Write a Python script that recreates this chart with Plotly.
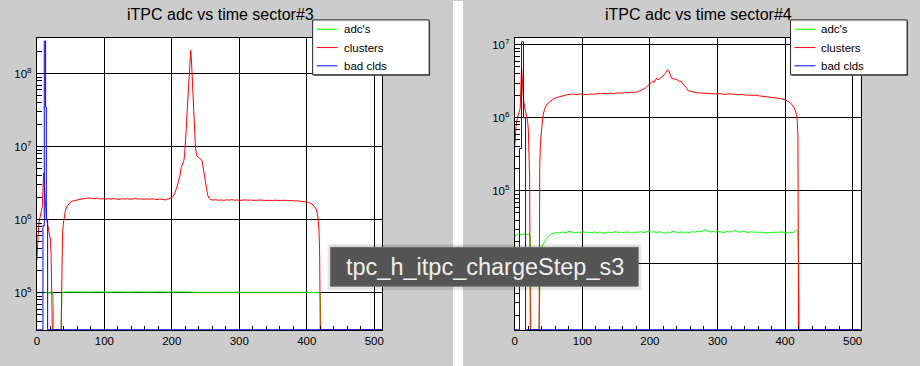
import plotly.graph_objects as go

# ---------------- data ----------------
x_ticks = [0, 100, 200, 300, 400, 500]
x_tick_labels = ["0", "100", "200", "300", "400", "500"]

s3_title = "iTPC adc vs time sector#3"
s4_title = "iTPC adc vs time sector#4"
series_names = ["adc's", "clusters", "bad clds"]

# sector 3
s3_y_ticks = [1e5, 1e6, 1e7, 1e8]
s3_y_tick_labels = ["10<sup>5</sup>", "10<sup>6</sup>", "10<sup>7</sup>", "10<sup>8</sup>"]

s3_clusters_x = [0, 1, 2, 3, 4, 6, 8, 9, 10, 11, 12, 13, 14, 16, 18, 20, 21, 22, 23, 36,
                 37, 38, 39, 40, 42, 44, 47, 50, 54, 58, 62, 66, 70, 74, 78, 82, 86, 90, 94, 98,
                 102, 106, 110, 114, 118, 122, 126, 130, 134, 138, 142, 146, 150, 154, 158, 162,
                 166, 170, 174, 178, 182, 186, 190, 194, 198, 201, 204, 206, 208, 210, 212, 214,
                 216, 218, 219, 220, 221, 222, 223, 224, 225, 226, 227, 228, 229, 230, 231, 232,
                 233, 234, 235, 236, 237, 239, 241, 243, 245, 247, 249, 251, 253, 255, 257, 261,
                 265, 269, 273, 277, 281, 285, 289, 293, 297, 301, 305, 309, 313, 317, 321, 325,
                 329, 333, 337, 341, 345, 349, 353, 357, 361, 365, 369, 373, 377, 381, 385, 389,
                 393, 397, 401, 404, 407, 410, 412, 414, 416, 417, 418, 419, 420, 512]
s3_clusters_y = [2.8e5, 5.0e5, 7.5e5, 9.0e5, 1.0e6, 1.2e6, 1.5e6, 2.5e6, 4.4e6, 3.2e6, 1.9e6,
                 1.5e6, 1.1e6, 8.5e5, 7.0e5, 5.5e5, 3.5e5, 1.5e5, 0, 0,
                 2.0e5, 6.0e5, 8.5e5, 1.05e6, 1.3e6, 1.5e6, 1.65e6, 1.75e6, 1.82e6, 1.86e6,
                 1.9e6, 1.93e6, 1.95e6, 1.97e6, 1.99e6, 1.96e6, 1.94e6, 1.98e6, 1.92e6, 1.95e6,
                 1.91e6, 1.94e6, 1.92e6, 1.95e6, 1.93e6, 1.90e6, 1.94e6, 1.92e6, 1.95e6, 1.91e6,
                 1.93e6, 1.96e6, 1.92e6, 1.94e6, 1.90e6, 1.93e6, 1.91e6, 1.94e6, 1.92e6, 1.89e6,
                 1.93e6, 1.91e6, 1.87e6, 1.92e6, 1.97e6, 2.05e6, 2.25e6, 2.5e6, 2.9e6, 3.4e6,
                 4.0e6, 5.2e6, 5.8e6, 6.5e6, 8.0e6, 1.0e7, 1.5e7, 2.3e7, 3.3e7, 4.7e7, 7.0e7,
                 1.0e8, 1.7e8, 2.1e8, 1.6e8, 1.0e8, 6.0e7, 3.5e7, 2.0e7, 1.3e7, 1.0e7, 8.5e6,
                 7.6e6, 7.2e6, 7.0e6, 6.8e6, 6.3e6, 4.8e6, 3.6e6, 2.7e6, 2.2e6, 1.97e6, 1.9e6,
                 1.86e6, 1.88e6, 1.85e6, 1.87e6, 1.84e6, 1.88e6, 1.86e6, 1.89e6, 1.85e6, 1.87e6,
                 1.84e6, 1.86e6, 1.88e6, 1.85e6, 1.87e6, 1.84e6, 1.86e6, 1.85e6, 1.87e6, 1.84e6,
                 1.86e6, 1.85e6, 1.83e6, 1.86e6, 1.84e6, 1.85e6, 1.83e6, 1.85e6, 1.82e6, 1.84e6,
                 1.81e6, 1.83e6, 1.80e6, 1.79e6, 1.77e6, 1.74e6, 1.70e6, 1.66e6, 1.58e6, 1.5e6,
                 1.4e6, 1.2e6, 1.0e6, 7.5e5, 4.0e5, 0, 0]

s3_adc_x = [0, 5, 10, 15, 20, 24, 25, 36, 37, 38, 48, 58, 68, 78, 88, 98, 108, 118, 128, 138,
            148, 158, 168, 178, 188, 198, 208, 218, 228, 238, 248, 258, 268, 278, 288, 298, 308,
            318, 328, 338, 348, 358, 368, 378, 388, 398, 408, 415, 420, 421, 512]
s3_adc_y = [1.0e5, 1.01e5, 1.0e5, 1.01e5, 1.0e5, 1.0e5, 0, 0, 9.5e4, 1.02e5, 1.03e5, 1.02e5,
            1.03e5, 1.02e5, 1.03e5, 1.02e5, 1.02e5, 1.03e5, 1.02e5, 1.02e5, 1.03e5, 1.02e5,
            1.02e5, 1.03e5, 1.02e5, 1.02e5, 1.03e5, 1.02e5, 1.03e5, 1.02e5, 1.02e5, 1.03e5,
            1.02e5, 1.02e5, 1.03e5, 1.02e5, 1.02e5, 1.03e5, 1.02e5, 1.02e5, 1.03e5, 1.02e5,
            1.02e5, 1.03e5, 1.02e5, 1.02e5, 1.02e5, 1.02e5, 1.0e5, 0, 0]

s3_bad_x = [0, 9, 11, 13, 14, 16, 512]
s3_bad_y = [0, 8.3e5, 2.8e8, 3.5e7, 1.0e6, 0, 0]

# sector 4
s4_y_ticks = [1e4, 1e5, 1e6, 1e7]
s4_y_tick_labels = ["10<sup>4</sup>", "10<sup>5</sup>", "10<sup>6</sup>", "10<sup>7</sup>"]

s4_clusters_x = [0, 1, 2, 4, 6, 8, 9, 10, 11, 12, 13, 14, 16, 18, 19, 20, 21, 22, 23, 36, 37, 38,
                 40, 42, 44, 46, 49, 53, 57, 62, 67, 72, 77, 82, 87, 92, 97, 102, 107, 112, 117,
                 122, 127, 132, 137, 142, 147, 152, 157, 162, 167, 172, 177, 182, 186, 190, 194,
                 198, 201, 204, 206, 208, 210, 212, 214, 216, 219, 222, 224, 226, 228, 230, 232,
                 235, 238, 241, 244, 246, 248, 251, 253, 255, 257, 260, 264, 268, 272, 277, 282,
                 287, 292, 297, 302, 307, 312, 317, 322, 327, 332, 337, 342, 347, 352, 357, 362,
                 367, 372, 377, 382, 387, 392, 397, 401, 405, 408, 411, 413, 415, 417, 418, 419,
                 420, 512]
s4_clusters_y = [4.0e5, 6.0e5, 8.0e5, 1.0e6, 1.15e6, 1.35e6, 2.5e6, 5.0e6, 3.5e6, 2.2e6, 1.8e6,
                 1.5e6, 1.2e6, 1.0e6, 9.0e5, 7.0e5, 4.0e5, 1.5e5, 0, 0, 2.3e5, 4.5e5, 7.4e5,
                 1.1e6, 1.3e6, 1.45e6, 1.58e6, 1.72e6, 1.82e6, 1.9e6, 1.97e6, 2.02e6, 2.07e6,
                 2.1e6, 2.12e6, 2.08e6, 2.13e6, 2.1e6, 2.08e6, 2.12e6, 2.1e6, 2.15e6, 2.13e6,
                 2.17e6, 2.14e6, 2.18e6, 2.15e6, 2.2e6, 2.18e6, 2.22e6, 2.2e6, 2.25e6, 2.23e6,
                 2.28e6, 2.35e6, 2.45e6, 2.6e6, 2.8e6, 3.0e6, 3.2e6, 3.05e6, 3.3e6, 3.5e6, 3.3e6,
                 3.45e6, 3.55e6, 3.7e6, 3.95e6, 4.2e6, 4.5e6, 4.4e6, 3.9e6, 3.5e6, 3.45e6,
                 3.4e6, 3.3e6, 3.15e6, 3.2e6, 3.0e6, 2.8e6, 2.6e6, 2.5e6, 2.35e6, 2.3e6, 2.26e6,
                 2.22e6, 2.2e6, 2.18e6, 2.2e6, 2.15e6, 2.17e6, 2.13e6, 2.15e6, 2.12e6, 2.1e6,
                 2.13e6, 2.09e6, 2.1e6, 2.07e6, 2.09e6, 2.05e6, 2.06e6, 2.03e6, 2.04e6, 2.0e6,
                 1.98e6, 1.93e6, 1.92e6, 1.9e6, 1.88e6, 1.85e6, 1.8e6, 1.75e6, 1.68e6, 1.6e6,
                 1.5e6, 1.4e6, 1.28e6, 1.1e6, 9.0e5, 6.0e5, 0, 0]

s4_adc_x = [0, 2, 6, 10, 14, 18, 22, 23, 24, 36, 37, 38, 40, 42, 44, 46, 48, 51, 54, 58, 62, 66,
            70, 74, 78, 82, 86, 90, 94, 98, 102, 106, 110, 114, 118, 122, 126, 130, 134, 138,
            142, 146, 150, 154, 158, 162, 166, 170, 174, 178, 182, 186, 190, 194, 198, 202, 206,
            210, 214, 218, 222, 226, 230, 234, 238, 242, 246, 250, 254, 258, 262, 266, 270, 274,
            278, 282, 286, 290, 294, 298, 302, 306, 310, 314, 318, 322, 326, 330, 334, 338, 342,
            346, 350, 354, 358, 362, 366, 370, 374, 378, 382, 386, 390, 394, 398, 402, 406, 410,
            414, 417, 419, 420, 421, 512]
s4_adc_y = [2.3e4, 2.5e4, 2.55e4, 2.5e4, 2.6e4, 2.55e4, 2.5e4, 2.4e4, 0, 0, 1.2e4, 1.6e4, 1.7e4,
            1.9e4, 2.0e4, 2.15e4, 2.3e4, 2.45e4, 2.55e4, 2.62e4, 2.7e4, 2.65e4, 2.75e4, 2.68e4,
            2.72e4, 2.8e4, 2.7e4, 2.66e4, 2.74e4, 2.7e4, 2.78e4, 2.65e4, 2.72e4, 2.68e4, 2.76e4,
            2.66e4, 2.74e4, 2.7e4, 2.62e4, 2.75e4, 2.68e4, 2.72e4, 2.78e4, 2.67e4, 2.73e4,
            2.69e4, 2.76e4, 2.7e4, 2.64e4, 2.73e4, 2.71e4, 2.78e4, 2.69e4, 2.74e4, 2.8e4,
            2.72e4, 2.76e4, 2.68e4, 2.78e4, 2.7e4, 2.62e4, 2.74e4, 2.7e4, 2.8e4, 2.72e4,
            2.66e4, 2.76e4, 2.7e4, 2.74e4, 2.68e4, 2.78e4, 2.72e4, 2.8e4, 2.75e4, 2.82e4,
            2.95e4, 2.8e4, 2.74e4, 2.8e4, 2.72e4, 2.78e4, 2.75e4, 2.7e4, 2.8e4, 2.74e4, 2.78e4,
            2.9e4, 2.76e4, 2.72e4, 2.8e4, 2.74e4, 2.7e4, 2.77e4, 2.72e4, 2.75e4, 2.68e4,
            2.74e4, 2.7e4, 2.64e4, 2.72e4, 2.68e4, 2.74e4, 2.7e4, 2.76e4, 2.72e4, 2.66e4,
            2.74e4, 2.68e4, 2.75e4, 2.95e4, 2.8e4, 1.2e4, 0, 0]

s4_bad_x = [0, 7, 10, 13, 16, 512]
s4_bad_y = [0, 3.8e5, 1.1e7, 1.0e6, 0, 0]

tooltip_text = "tpc_h_itpc_chargeStep_s3"

# ---------------- layout helpers ----------------
W, H = 920, 366
FONT = "Liberation Sans, Arial, Helvetica, sans-serif"
C_ADC, C_CLU, C_BAD = "#00ff00", "#ff0000", "#0000ff"


def px(x):
    return x / W


def py(y):
    return 1 - y / H


S3_RANGE = [4.49, 8.49]
S4_RANGE = [3.095, 7.095]


def floor(vals, rng):
    f = 10 ** (rng[0] + 0.004)
    return [v if v > 0 else f for v in vals]


fig = go.Figure()

panels = [
    ("x", "y", S3_RANGE, s3_adc_x, s3_adc_y, s3_clusters_x, s3_clusters_y, s3_bad_x, s3_bad_y),
    ("x2", "y2", S4_RANGE, s4_adc_x, s4_adc_y, s4_clusters_x, s4_clusters_y, s4_bad_x, s4_bad_y),
]
for xa, ya, rng, ax, ay, cx, cy, bx, by in panels:
    fig.add_trace(go.Scatter(x=ax, y=floor(ay, rng), mode="lines", name=series_names[0],
                             line=dict(color=C_ADC, width=1), xaxis=xa, yaxis=ya,
                             showlegend=False, hoverinfo="skip"))
    fig.add_trace(go.Scatter(x=cx, y=floor(cy, rng), mode="lines", name=series_names[1],
                             line=dict(color=C_CLU, width=1), xaxis=xa, yaxis=ya,
                             showlegend=False, hoverinfo="skip"))
    fig.add_trace(go.Scatter(x=bx, y=floor(by, rng), mode="lines", name=series_names[2],
                             line=dict(color=C_BAD, width=1, shape="hv"), xaxis=xa, yaxis=ya,
                             showlegend=False, hoverinfo="skip"))


def minor_log(rng):
    vals = []
    for d in range(int(rng[0]) - 1, int(rng[1]) + 2):
        for k in range(2, 10):
            vals.append(k * 10 ** d)
    return vals


tickfont = dict(family=FONT, size=11.5, color="black")


def xaxis_cfg(dom):
    return dict(domain=dom, range=[0, 512], tickvals=x_ticks, ticktext=x_tick_labels,
                showgrid=True, gridcolor="black", gridwidth=1, zeroline=False,
                showline=True, mirror=True, linecolor="black", linewidth=1,
                ticks="inside", ticklen=8, tickcolor="black", tickfont=tickfont,
                minor=dict(dtick=20, tick0=0, ticks="inside", ticklen=4, tickcolor="black",
                           showgrid=False),
                fixedrange=True)


def yaxis_cfg(dom, rng, tv, tt, anchor):
    return dict(domain=dom, type="log", range=rng, tickvals=tv, ticktext=tt,
                showgrid=True, gridcolor="black", gridwidth=1, zeroline=False,
                showline=True, mirror=True, linecolor="black", linewidth=1,
                ticks="inside", ticklen=8, tickcolor="black", tickfont=tickfont,
                ticklabelstandoff=2,
                minor=dict(tickvals=minor_log(rng), ticks="inside", ticklen=5,
                           tickcolor="black", showgrid=False),
                anchor=anchor, fixedrange=True)


ydom = [py(330), py(37)]
fig.update_layout(
    width=W, height=H, margin=dict(l=0, r=0, t=0, b=0),
    paper_bgcolor="#cccccc", plot_bgcolor="white",
    font=dict(family=FONT, color="black"),
    xaxis=xaxis_cfg([px(34), px(381)]) | dict(anchor="y"),
    yaxis=yaxis_cfg(ydom, S3_RANGE, s3_y_ticks, s3_y_tick_labels, "x"),
    xaxis2=xaxis_cfg([px(514), px(861.5)]) | dict(anchor="y2"),
    yaxis2=yaxis_cfg(ydom, S4_RANGE, s4_y_ticks, s4_y_tick_labels, "x2"),
    showlegend=False,
)

shapes = []
annotations = []
# white gap between the two canvases
shapes.append(dict(type="rect", xref="paper", yref="paper", x0=px(452), x1=px(462),
                   y0=0, y1=1, fillcolor="white", line=dict(width=0), layer="below"))

# titles
for cx, t in [(218.3, s3_title), (698.3, s4_title)]:
    annotations.append(dict(xref="paper", yref="paper", x=px(cx), y=py(13.5), text=t,
                            showarrow=False, xanchor="center", yanchor="middle",
                            font=dict(family=FONT, size=16, color="black")))

# legends (boxes drawn per panel)
for lx in [311, 791]:
    shapes.append(dict(type="rect", xref="paper", yref="paper", x0=px(lx + 1), x1=px(lx + 118),
                       y0=py(75), y1=py(20), fillcolor="#555555", line=dict(width=0),
                       layer="above"))
    shapes.append(dict(type="rect", xref="paper", yref="paper", x0=px(lx), x1=px(lx + 117),
                       y0=py(74), y1=py(19), fillcolor="white",
                       line=dict(color="#222222", width=1), layer="above"))
    for name, col, yy in zip(series_names, [C_ADC, C_CLU, C_BAD], [28.3, 46.7, 65.0]):
        shapes.append(dict(type="line", xref="paper", yref="paper", x0=px(lx + 4),
                           x1=px(lx + 25), y0=py(yy), y1=py(yy),
                           line=dict(color=col, width=1), layer="above"))
        annotations.append(dict(xref="paper", yref="paper", x=px(lx + 29), y=py(yy),
                                text=name, showarrow=False, xanchor="left",
                                yanchor="middle",
                                font=dict(family=FONT, size=11.5, color="black")))

# tooltip overlay
shapes.append(dict(type="rect", xref="paper", yref="paper", x0=px(326), x1=px(641),
                   y0=py(290), y1=py(244), fillcolor="rgba(0,0,0,0.10)",
                   line=dict(width=0), layer="above"))
shapes.append(dict(type="rect", xref="paper", yref="paper", x0=px(329), x1=px(638),
                   y0=py(286), y1=py(247), fillcolor="#555555",
                   line=dict(color="#6e6e6e", width=1), layer="above"))
annotations.append(dict(xref="paper", yref="paper", x=px(342.5), y=py(266.5), text=tooltip_text,
                        showarrow=False, xanchor="left", yanchor="middle",
                        font=dict(family=FONT, size=23.5, color="#eeeeee")))

fig.update_layout(shapes=shapes, annotations=annotations)
fig.write_html("out.html", config={"displayModeBar": False},
               post_script="document.body.style.margin='0';document.body.style.padding='0';")
